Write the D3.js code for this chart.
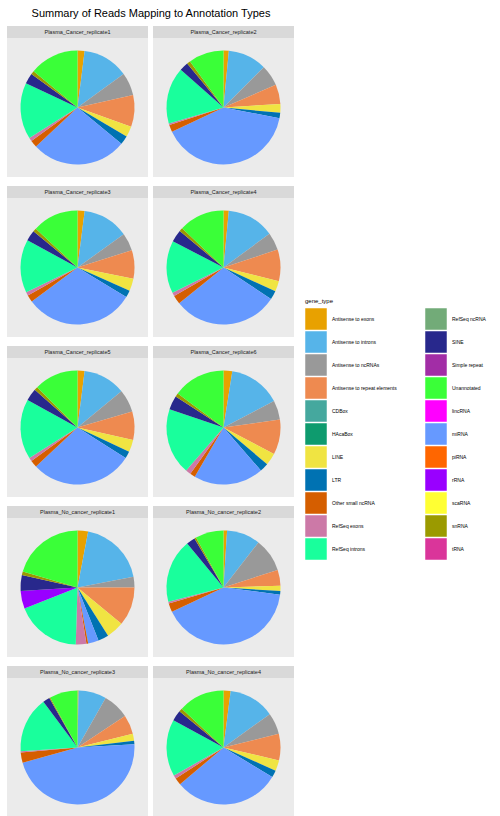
<!DOCTYPE html>
<html>
<head>
<meta charset="utf-8">
<script src="https://cdn.jsdelivr.net/npm/d3@7"></script>
<style>
  body { margin: 0; background: #fff; }
  text { font-family: "Liberation Sans", Arial, sans-serif; }
</style>
</head>
<body>
<svg id="chart" width="500" height="816"></svg>
<script>
// legend order (factor levels)
var legendTypes = ["Antisense to exons", "Antisense to introns", "Antisense to ncRNAs",
  "Antisense to repeat elements", "CDBox", "HAcaBox", "LINE", "LTR", "Other small ncRNA",
  "RefSeq exons", "RefSeq introns", "RefSeq ncRNA", "SINE", "Simple repeat", "Unannotated",
  "lincRNA", "miRNA", "piRNA", "rRNA", "scaRNA", "snRNA", "tRNA"];

var typeColors = ["#E8A100", "#56B4E9", "#999999", "#EE8A50", "#45A89E", "#0E9B6E",
  "#F0E442", "#0072B2", "#D55E00", "#CC79A7", "#19FF9C", "#72AB78", "#28288C",
  "#A22DA6", "#3AFF38", "#FF00FF", "#6699FF", "#FF6600", "#9900FF", "#FFFF33",
  "#9B9A00", "#DA359A"];

// slices go clockwise from 12 o'clock in this order
var pieTypes = ["Antisense to exons", "Antisense to introns", "Antisense to ncRNAs",
  "Antisense to repeat elements", "LINE", "LTR", "miRNA", "Other small ncRNA",
  "RefSeq exons", "RefSeq introns", "rRNA", "SINE", "snRNA", "Unannotated"];

var samples = ["Plasma_Cancer_replicate1", "Plasma_Cancer_replicate2",
  "Plasma_Cancer_replicate3", "Plasma_Cancer_replicate4",
  "Plasma_Cancer_replicate5", "Plasma_Cancer_replicate6",
  "Plasma_No_cancer_replicate1", "Plasma_No_cancer_replicate2",
  "Plasma_No_cancer_replicate3", "Plasma_No_cancer_replicate4"];

// percent of reads, in pieTypes order
var cancer1 = [2, 13, 6.5, 9, 3, 2.5, 27, 2, 1, 16, 0, 3, 1, 14];
var cancer2 = [1.5, 11, 6, 5.5, 2.5, 1.5, 40, 2, 0.5, 16, 0, 2.5, 1, 10];
var cancer3 = [2, 13, 5, 8, 3.5, 2, 31, 2, 1, 15, 0, 3, 1, 13];
var cancer4 = [1.5, 13.5, 5, 9, 3, 2.5, 30, 2.5, 1, 15, 0, 3.5, 1, 13];
var cancer5 = [2, 12, 6.5, 8, 3.5, 2, 29, 2, 1, 17, 0, 3.5, 1, 12.5];
var cancer6 = [2.5, 15, 5.5, 10, 3.5, 2.5, 20, 1.5, 1.5, 19, 0, 4, 1, 15];
var noCancer1 = [3, 19, 3, 11, 5, 3, 3, 0.5, 3, 18.5, 5, 4.5, 1, 20.5];
var noCancer2 = [1, 9.5, 9.5, 4.5, 1.5, 1, 41, 2.5, 0.5, 18, 0, 2.5, 0.5, 8];
var noCancer3 = [0.3, 8, 7.5, 5.5, 2, 1, 47, 3, 0.3, 16, 0, 2, 0.3, 8];
var noCancer4 = [2, 13, 6, 7.5, 3, 2, 30, 2, 1, 16, 0, 3, 1, 13];
var panelValues = [cancer1, cancer2, cancer3, cancer4, cancer5, cancer6,
  noCancer1, noCancer2, noCancer3, noCancer4];

var svg = d3.select("#chart");
var color = d3.scaleOrdinal().domain(legendTypes).range(typeColors);

svg.append("text")
  .attr("x", 151).attr("y", 17)
  .attr("text-anchor", "middle")
  .style("font-size", "11px")
  .attr("fill", "#000")
  .text("Summary of Reads Mapping to Annotation Types");

var panelW = 141, panelH = 151, stripH = 12;
var colX = d3.scaleOrdinal().domain([0, 1]).range([7, 153]);
var rowY = d3.scaleLinear().domain([0, 4]).range([26, 666]);
var radius = 57;

var pie = d3.pie().sort(null).value(function(d) { return d.v; });
var arc = d3.arc().innerRadius(0).outerRadius(radius);

samples.forEach(function(name, i) {
  var g = svg.append("g")
    .attr("transform", "translate(" + colX(i % 2) + "," + rowY(Math.floor(i / 2)) + ")");
  g.append("rect").attr("width", panelW).attr("height", stripH).attr("fill", "#D9D9D9");
  g.append("text")
    .attr("x", panelW / 2).attr("y", stripH / 2 + 2)
    .attr("text-anchor", "middle")
    .style("font-size", "5.5px")
    .attr("fill", "#1A1A1A")
    .text(name);
  g.append("rect").attr("y", stripH).attr("width", panelW)
    .attr("height", panelH - stripH).attr("fill", "#EBEBEB");

  var data = pieTypes.map(function(t, j) { return {type: t, v: panelValues[i][j]}; });
  g.append("g")
    .attr("transform", "translate(" + (panelW / 2) + "," + (stripH + (panelH - stripH) / 2) + ")")
    .selectAll("path")
    .data(pie(data))
    .enter().append("path")
      .attr("d", arc)
      .attr("fill", function(d) { return color(d.data.type); });
});

// legend
var legend = svg.append("g").attr("transform", "translate(305,0)");
legend.append("text")
  .attr("x", 0).attr("y", 303)
  .style("font-size", "6px")
  .text("gene_type");

var keyY = d3.scaleLinear().domain([0, 10]).range([308, 538]);
legend.selectAll(".key")
  .data(legendTypes)
  .enter().append("g")
    .attr("class", "key")
    .attr("transform", function(d, i) {
      return "translate(" + (i < 11 ? 0 : 120) + "," + keyY(i % 11) + ")";
    })
    .each(function(d) {
      var k = d3.select(this);
      k.append("rect").attr("width", 22).attr("height", 22)
        .attr("fill", color(d)).attr("stroke", "#fff").attr("stroke-width", 0.5);
      k.append("text").attr("x", 27).attr("y", 13)
        .style("font-size", "5px").attr("fill", "#000").text(d);
    });
</script>
</body>
</html>
